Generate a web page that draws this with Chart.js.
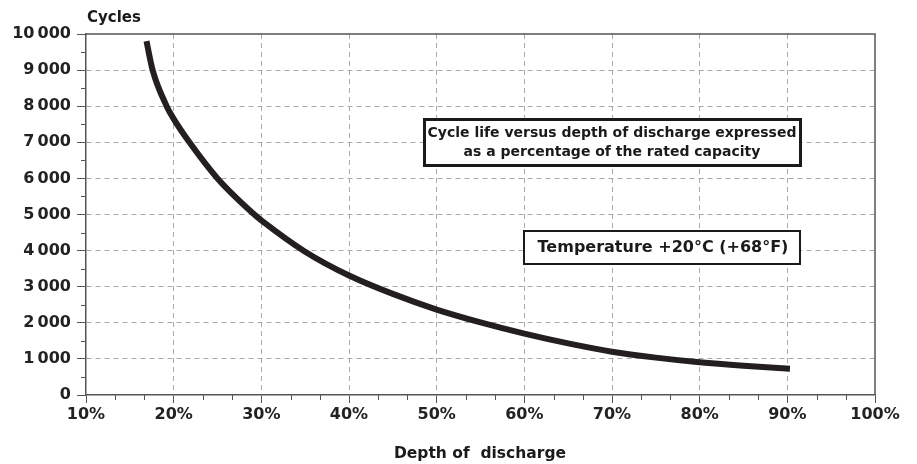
<!DOCTYPE html>
<html>
<head>
<meta charset="utf-8">
<script src="https://cdn.jsdelivr.net/npm/chart.js@4"></script>
<style>
  html, body { margin: 0; padding: 0; background: #fff; }
  #wrap { width: 917px; height: 464px; }
</style>
</head>
<body>
<div id="wrap"><canvas id="myChart" width="917" height="464"></canvas></div>
<script>
// depth of discharge (%) and cycle count
var depth  = [16.9, 17.6, 19.2, 20,   21.8, 25,   29.2, 30,   35,   40,   45,   50,   55,   60,   65,   70,   75,   80,  85,  90.3];
var cycles = [9800, 9000, 8000, 7650, 7000, 6000, 5000, 4840, 3970, 3310, 2800, 2365, 2010, 1700, 1430, 1200, 1035, 905, 810, 730];

var xTitle = "Depth of  discharge";
var yTitle = "Cycles";
var note1 = ["Cycle life versus depth of discharge expressed", "as a percentage of the rated capacity"];
var note2 = "Temperature +20°C (+68°F)";

var gridGray = "#a9a9a9";
var axisGray = "#555555";
var font = "DejaVu Sans";

var puntos = [];
for (var i = 0; i < depth.length; i++) {
    puntos.push({x: depth[i], y: cycles[i]});
}

function fmtMiles(v) {
    var s = String(v);
    if (v >= 1000) {
        s = s.slice(0, s.length - 3) + "\u2009" + s.slice(s.length - 3);
    }
    return s;
}

var extras = {
    id: "extras",
    beforeDatasetsDraw: function(chart) {
        var ctx = chart.ctx;
        var a = chart.chartArea;
        ctx.save();
        ctx.strokeStyle = axisGray;
        ctx.lineWidth = 1.5;
        ctx.beginPath();
        ctx.moveTo(a.left, a.top);
        ctx.lineTo(a.right, a.top);
        ctx.lineTo(a.right, a.bottom);
        ctx.stroke();

        // minor ticks
        var xs = chart.scales.x, ys = chart.scales.y;
        ctx.lineWidth = 1;
        ctx.beginPath();
        for (var k = 0; k <= 27; k++) {
            if (k % 3 === 0) continue;
            var px = Math.round(xs.getPixelForValue(10 + k * 10 / 3)) + 0.5;
            ctx.moveTo(px, a.bottom);
            ctx.lineTo(px, a.bottom + 5);
        }
        for (var v = 500; v < 10000; v += 1000) {
            var py = Math.round(ys.getPixelForValue(v)) + 0.5;
            ctx.moveTo(a.left, py);
            ctx.lineTo(a.left - 5, py);
        }
        ctx.stroke();
        ctx.restore();
    },
    afterDraw: function(chart) {
        var ctx = chart.ctx;
        var a = chart.chartArea;
        ctx.save();
        ctx.fillStyle = "#1a1a1a";
        ctx.textBaseline = "middle";

        ctx.font = "bold 15px '" + font + "'";
        ctx.textAlign = "left";
        ctx.fillText(yTitle, a.left + 1, 18);

        ctx.font = "bold 15.5px '" + font + "'";
        ctx.textAlign = "center";
        ctx.fillText(xTitle, 480, 454);

        // note boxes
        ctx.fillStyle = "#fff";
        ctx.fillRect(424, 119, 376, 46);
        ctx.strokeStyle = "#1a1a1a";
        ctx.lineWidth = 3;
        ctx.strokeRect(424.5, 119.5, 376, 46);
        ctx.fillStyle = "#1a1a1a";
        ctx.font = "bold 14px '" + font + "'";
        ctx.fillText(note1[0], 612, 133.5);
        ctx.fillText(note1[1], 612, 152.5);

        ctx.fillStyle = "#fff";
        ctx.fillRect(524, 231, 276, 33);
        ctx.lineWidth = 2;
        ctx.strokeRect(524, 231, 276, 33);
        ctx.fillStyle = "#1a1a1a";
        ctx.font = "bold 16px '" + font + "'";
        ctx.fillText(note2, 663, 247.5);
        ctx.restore();
    }
};

var ctx = document.getElementById("myChart").getContext("2d");
var myChart = new Chart(ctx, {
    type: "line",
    data: {
        datasets: [{
            label: yTitle,
            data: puntos,
            borderColor: "#231f20",
            backgroundColor: "#231f20",
            borderWidth: 6,
            borderCapStyle: "butt",
            pointRadius: 0,
            cubicInterpolationMode: "monotone",
            fill: false
        }]
    },
    options: {
        responsive: false,
        animation: false,
        layout: { padding: { left: 0, right: 42, top: 34, bottom: 39 } },
        plugins: {
            legend: { display: false },
            tooltip: { enabled: false }
        },
        scales: {
            x: {
                type: "linear",
                min: 10,
                max: 100,
                afterFit: function(s) { s.height = 30; },
                ticks: {
                    stepSize: 10,
                    padding: 2,
                    color: "#222",
                    font: { family: font, size: 16, weight: "bold" },
                    maxRotation: 0,
                    callback: function(v) { return v + "%"; }
                },
                grid: {
                    color: function(c) {
                        return (c.tick && (c.tick.value === 10 || c.tick.value === 100)) ? "rgba(0,0,0,0)" : gridGray;
                    },
                    tickColor: axisGray,
                    tickLength: 8,
                    tickBorderDash: [],
                    lineWidth: 1
                },
                border: { display: true, color: axisGray, width: 1.5, dash: [5, 4] }
            },
            y: {
                min: 0,
                max: 10000,
                afterFit: function(s) { s.width = 86; },
                ticks: {
                    stepSize: 1000,
                    padding: 6,
                    color: "#222",
                    font: { family: font, size: 16, weight: "bold" },
                    callback: function(v) { return fmtMiles(v); }
                },
                grid: {
                    color: function(c) {
                        return (c.tick && (c.tick.value === 0 || c.tick.value === 10000)) ? "rgba(0,0,0,0)" : gridGray;
                    },
                    tickColor: axisGray,
                    tickLength: 9,
                    tickBorderDash: [],
                    lineWidth: 1
                },
                border: { display: true, color: axisGray, width: 1.5, dash: [5, 4] }
            }
        }
    },
    plugins: [extras]
});
</script>
</body>
</html>
